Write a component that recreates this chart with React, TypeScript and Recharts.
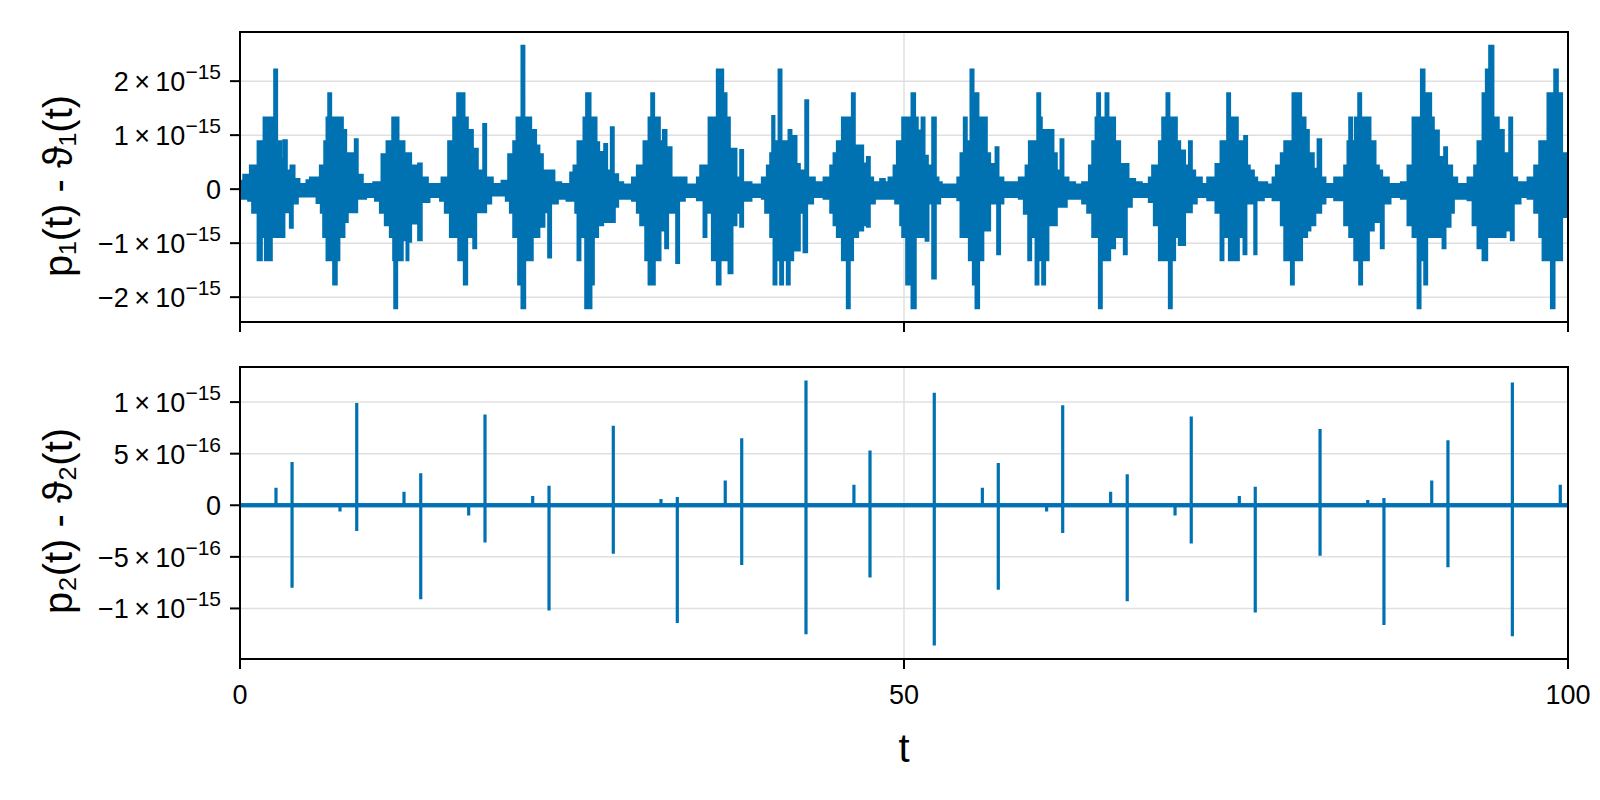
import React from 'react';
import { ComposedChart, Area, Line, XAxis, YAxis, CartesianGrid } from 'recharts';

const BLUE = '#0072B2';
const GRID = '#e0e0e0';
const FONT = '"Liberation Sans", Arimo, Arial, Helvetica, sans-serif';

// ---- axes / labels ----
const X_TICKS = [0, 50, 100];
const X_LABEL = 't';
const TOP_Y_LABEL = 'p₁(t) - ϑ₁(t)';
const BOTTOM_Y_LABEL = 'p₂(t) - ϑ₂(t)';

// values are expressed in units of 1e-15
const TOP_DOMAIN = [-2.46, 2.91];
const TOP_TICKS = [-2, -1, 0, 1, 2];
const TOP_TICK_MANTISSA = ['−2', '−1', '0', '1', '2'];
const TOP_TICK_EXP = ['−15', '−15', '', '−15', '−15'];

const BOTTOM_DOMAIN = [-1.49, 1.34];
const BOTTOM_TICKS = [-1, -0.5, 0, 0.5, 1];
const BOTTOM_TICK_MANTISSA = ['−1', '−5', '0', '5', '1'];
const BOTTOM_TICK_EXP = ['−15', '−16', '', '−16', '−15'];

// ---- top panel: upper envelope of p1 - θ1 (t, value ×1e-15), step breakpoints ----
const TOP_UPPER: [number, number][] = [
  [0, 0.16], [0.23, 0.27], [0.73, 0.44], [1.31, 0.89], [1.76, 1.33], [2.56, 2.22], [2.81, 0.89], [3.11, 0.56],
  [3.24, 0.91], [3.54, 0.35], [3.79, 0.44], [4.12, 0.19], [4.49, 0.10], [4.99, 0.17], [5.25, 0.22], [6.0, 0.44],
  [6.33, 0.89], [6.5, 1.33], [6.63, 1.78], [6.88, 1.33], [7.76, 1.10], [8.01, 0.67], [8.51, 0.28], [8.63, 0.93],
  [8.88, 0.27], [9.26, 0.10], [10.02, 0.13], [10.64, 0.65], [11.02, 0.89], [11.45, 1.33], [11.95, 0.89], [12.4, 0.67],
  [12.9, 0.44], [13.4, 0.48], [13.7, 0.22], [14.16, 0.10], [15.16, 0.22], [15.66, 0.89], [16.04, 1.33], [16.34, 1.78],
  [16.92, 1.33], [17.17, 1.10], [17.55, 0.75], [17.92, 0.35], [18.3, 1.21], [18.55, 0.22], [19.05, 0.10], [19.68, 0.16],
  [20.18, 0.65], [20.56, 0.89], [20.81, 1.33], [21.18, 2.66], [21.43, 1.33], [21.94, 1.10], [22.31, 0.81], [22.56, 0.65],
  [22.82, 0.35], [23.69, 0.13], [24.2, 0.10], [24.85, 0.31], [25.1, 0.44], [25.4, 0.89], [25.85, 1.33], [26.05, 1.78],
  [26.41, 1.33], [26.86, 0.87], [27.06, 0.69], [27.41, 0.84], [27.66, 0.35], [27.91, 1.15], [28.16, 0.28], [28.49, 0.13],
  [28.87, 0.09], [29.5, 0.22], [29.87, 0.44], [30.37, 0.89], [30.75, 1.33], [30.95, 1.78], [31.2, 1.33], [31.63, 0.89],
  [31.83, 1.10], [32.13, 0.78], [32.51, 0.22], [33.64, 0.09], [34.39, 0.22], [34.64, 0.44], [35.27, 1.33], [35.89, 2.22],
  [36.4, 1.78], [36.65, 1.33], [36.9, 0.75], [37.4, 0.22], [37.65, 0.73], [37.9, 0.13], [38.53, 0.09], [39.28, 0.22],
  [39.66, 0.44], [39.91, 0.67], [40.06, 1.36], [40.26, 0.89], [40.54, 2.22], [40.79, 0.89], [41.29, 1.10], [41.54, 0.99],
  [41.92, 0.47], [42.17, 0.35], [42.55, 1.65], [42.8, 0.22], [43.3, 0.13], [43.93, 0.22], [44.43, 0.44], [44.68, 0.67],
  [44.93, 0.89], [45.31, 1.33], [46.06, 1.78], [46.31, 0.81], [46.94, 0.48], [47.19, 0.60], [47.44, 0.22], [47.69, 0.13],
  [48.19, 0.19], [48.57, 0.13], [48.82, 0.22], [49.2, 0.44], [49.45, 0.89], [49.85, 1.33], [50.55, 1.78], [50.85, 1.33],
  [51.05, 1.09], [51.31, 1.33], [51.56, 0.62], [51.81, 0.44], [52.11, 1.33], [52.41, 0.22], [52.61, 0.13], [52.86, 0.09],
  [54.0, 0.22], [54.24, 0.67], [54.49, 1.33], [54.74, 0.89], [54.99, 2.22], [55.25, 1.78], [55.62, 1.33], [56.25, 0.67],
  [56.5, 0.47], [56.88, 0.78], [57.13, 0.22], [57.5, 0.13], [58.63, 0.22], [59.14, 0.44], [59.39, 0.89], [60.02, 1.78],
  [60.27, 1.33], [60.39, 1.10], [61.27, 0.67], [61.52, 0.35], [61.77, 0.93], [62.02, 0.22], [62.4, 0.13], [62.9, 0.09],
  [63.4, 0.13], [63.91, 0.44], [64.16, 0.89], [64.41, 1.33], [64.53, 1.78], [64.78, 1.33], [65.16, 1.78], [65.41, 1.33],
  [65.91, 0.89], [66.29, 0.47], [66.92, 0.19], [67.42, 0.13], [67.92, 0.10], [68.42, 0.22], [68.67, 0.44], [69.18, 0.89],
  [69.43, 1.33], [69.75, 1.78], [70.0, 1.33], [70.56, 0.89], [70.81, 0.72], [71.18, 0.44], [71.44, 0.89], [71.69, 0.35],
  [71.94, 0.22], [72.44, 0.10], [72.82, 0.22], [73.44, 0.47], [73.82, 0.89], [74.32, 1.78], [74.57, 1.33], [75.15, 0.89],
  [75.6, 0.99], [75.85, 0.44], [76.05, 0.35], [76.36, 0.22], [76.61, 0.13], [77.36, 0.09], [77.74, 0.22], [77.99, 0.44],
  [78.36, 0.67], [78.62, 0.89], [79.24, 1.78], [79.92, 1.33], [80.25, 1.10], [80.5, 0.67], [80.87, 0.38], [81.13, 0.93],
  [81.43, 0.22], [81.75, 0.10], [82.38, 0.22], [83.13, 0.44], [83.38, 0.89], [83.51, 1.33], [83.76, 0.89], [83.94, 1.33],
  [84.19, 1.78], [84.44, 1.33], [85.14, 0.89], [85.52, 0.44], [85.77, 0.35], [86.02, 0.22], [86.52, 0.10], [87.4, 0.13],
  [87.9, 0.44], [88.28, 1.33], [88.91, 2.22], [89.21, 1.78], [89.71, 1.33], [89.91, 1.09], [90.29, 0.60], [90.66, 0.78],
  [90.91, 0.44], [91.29, 0.22], [91.67, 0.10], [92.42, 0.22], [92.92, 0.44], [93.17, 0.89], [93.55, 1.78], [93.8, 2.22],
  [94.05, 2.66], [94.4, 1.33], [94.8, 1.10], [95.18, 0.67], [95.56, 1.33], [95.81, 0.22], [96.19, 0.13], [96.94, 0.22],
  [97.44, 0.44], [97.82, 0.89], [98.44, 1.78], [98.95, 2.22], [99.25, 1.78], [99.57, 0.67], [100, 0.67],
];

// ---- top panel: lower envelope of p1 - θ1 (t, value ×1e-15), step breakpoints ----
const TOP_LOWER: [number, number][] = [
  [0, -0.18], [0.6, -0.22], [0.9, -0.44], [1.31, -1.32], [1.66, -0.89], [1.86, -1.32], [2.41, -0.89], [3.36, -0.43],
  [3.74, -0.72], [3.99, -0.27], [4.37, -0.14], [5.75, -0.26], [6.07, -0.44], [6.25, -0.89], [6.5, -1.32], [7.0, -1.77],
  [7.3, -1.32], [7.5, -0.89], [7.88, -0.61], [8.13, -0.43], [8.84, -0.18], [9.51, -0.15], [10.15, -0.22], [10.52, -0.44],
  [10.89, -0.67], [11.27, -0.89], [11.52, -1.32], [11.6, -2.21], [11.85, -1.32], [12.27, -0.95], [12.52, -1.32], [12.7, -0.98],
  [12.9, -0.64], [13.4, -0.95], [13.7, -0.24], [14.28, -0.15], [15.05, -0.22], [15.41, -0.44], [15.79, -0.89], [16.42, -1.32],
  [16.72, -0.89], [16.84, -1.77], [17.12, -0.89], [17.55, -1.10], [17.8, -0.43], [18.55, -0.27], [18.93, -0.12], [20.0, -0.22],
  [20.31, -0.44], [20.56, -0.89], [20.93, -1.77], [21.18, -2.21], [21.49, -1.32], [22.06, -0.89], [22.56, -0.70], [22.94, -0.43],
  [23.19, -1.27], [23.44, -0.27], [23.95, -0.18], [24.57, -0.22], [25.23, -0.44], [25.4, -1.32], [25.65, -0.89], [25.98, -2.21],
  [26.48, -1.77], [26.66, -0.89], [26.98, -0.67], [27.36, -0.61], [28.24, -0.33], [28.49, -0.18], [29.5, -0.22], [29.87, -0.44],
  [30.12, -0.67], [30.5, -1.32], [30.75, -1.77], [31.25, -1.32], [31.68, -0.77], [32.0, -1.10], [32.25, -0.44], [32.83, -1.37],
  [33.08, -0.22], [33.51, -0.15], [34.39, -0.21], [34.89, -0.89], [35.14, -0.44], [35.52, -1.32], [35.89, -1.77], [36.2, -1.32],
  [36.77, -1.56], [37.1, -0.67], [37.4, -0.44], [37.65, -0.70], [37.9, -0.22], [38.53, -0.15], [39.28, -0.18], [39.53, -0.44],
  [39.91, -0.89], [40.16, -1.77], [40.41, -1.32], [40.66, -1.77], [40.91, -1.32], [41.16, -1.77], [41.41, -1.32], [41.67, -1.14],
  [42.17, -0.44], [42.42, -1.17], [42.72, -0.27], [43.17, -0.15], [43.93, -0.18], [44.43, -0.44], [44.68, -0.67], [44.93, -0.89],
  [45.31, -1.32], [45.68, -2.21], [45.93, -1.32], [46.18, -0.89], [46.56, -0.77], [46.94, -0.67], [47.19, -0.70], [47.44, -0.27],
  [47.82, -0.18], [49.32, -0.27], [49.7, -0.67], [49.85, -0.89], [50.15, -1.77], [50.55, -2.21], [50.9, -0.89], [51.61, -0.96],
  [51.86, -0.27], [52.11, -1.66], [52.41, -0.27], [52.74, -0.15], [54.0, -0.21], [54.24, -0.89], [54.87, -1.32], [55.17, -1.77],
  [55.37, -2.21], [55.67, -1.32], [55.99, -0.77], [56.5, -0.27], [57.0, -1.21], [57.25, -0.27], [57.5, -0.15], [58.63, -0.18],
  [59.01, -0.46], [59.34, -1.32], [59.59, -0.89], [59.89, -1.77], [60.14, -1.32], [60.39, -1.77], [60.64, -1.32], [60.89, -0.67],
  [61.52, -0.33], [62.27, -0.18], [63.4, -0.27], [63.78, -0.44], [64.16, -0.89], [64.66, -2.21], [64.91, -1.32], [65.54, -1.10],
  [65.91, -0.89], [66.54, -1.21], [66.79, -0.33], [67.17, -0.15], [68.42, -0.24], [68.8, -0.67], [69.18, -1.32], [69.93, -2.21],
  [70.18, -1.32], [70.43, -0.89], [70.68, -1.04], [71.18, -0.43], [71.69, -0.27], [72.06, -0.15], [72.82, -0.21], [73.44, -0.44],
  [73.82, -1.32], [74.07, -0.89], [74.45, -1.32], [75.23, -0.89], [75.55, -1.21], [75.8, -0.27], [76.36, -1.21], [76.56, -0.21],
  [77.11, -0.15], [77.74, -0.21], [78.36, -0.67], [78.62, -1.32], [79.12, -1.77], [79.37, -1.32], [79.99, -0.89], [80.37, -0.77],
  [80.62, -0.67], [80.99, -0.44], [81.43, -0.27], [81.75, -0.15], [82.38, -0.21], [83.13, -0.67], [83.51, -0.89], [83.89, -1.32],
  [84.26, -1.77], [84.51, -1.32], [85.02, -0.77], [85.39, -0.61], [85.89, -1.10], [86.14, -0.27], [86.65, -0.15], [87.4, -0.18],
  [87.9, -0.67], [88.28, -0.89], [88.66, -2.21], [88.91, -1.32], [89.16, -1.77], [89.41, -0.89], [90.54, -1.10], [90.79, -0.70],
  [91.17, -0.44], [91.42, -0.18], [92.42, -0.21], [92.8, -0.67], [93.17, -1.10], [93.55, -1.32], [93.93, -0.89], [95.31, -0.77],
  [95.68, -0.95], [95.93, -0.27], [96.44, -0.15], [96.94, -0.18], [97.44, -0.44], [97.82, -0.89], [98.07, -1.32], [98.7, -2.21],
  [99.0, -1.32], [99.57, -0.52], [100, -0.52],
];

// ---- bottom panel: p2 - θ2 (×1e-15) ----
const BOTTOM_NOISE_T = [0, 100];
const BOTTOM_NOISE_HI = [0.016, 0.016];
const BOTTOM_NOISE_LO = [-0.016, -0.016];

const SPIKE_T = [2.71, 3.92, 7.53, 8.79, 12.35, 13.61, 17.22, 18.45, 22.04, 23.27, 28.11, 31.7, 32.93, 36.54, 37.78, 42.62, 46.23, 47.44, 52.28, 55.9, 57.1, 60.74, 61.95, 65.56, 66.81, 70.41, 71.63, 75.25, 76.45, 81.33, 84.92, 86.14, 89.74, 90.96, 95.81, 99.42];
const SPIKE_HI = [0.17, 0.42, 0, 0.99, 0.13, 0.31, 0, 0.88, 0.09, 0.19, 0.77, 0.06, 0.08, 0.24, 0.65, 1.21, 0.2, 0.53, 1.09, 0.17, 0.41, 0, 0.97, 0.13, 0.3, 0, 0.86, 0.09, 0.18, 0.74, 0.05, 0.07, 0.24, 0.63, 1.19, 0.2];
const SPIKE_LO = [0, -0.8, -0.06, -0.25, 0, -0.91, -0.1, -0.36, 0, -1.02, -0.47, 0, -1.14, 0, -0.58, -1.25, 0, -0.7, -1.36, 0, -0.82, -0.06, -0.27, 0, -0.93, -0.1, -0.37, 0, -1.04, -0.49, 0, -1.16, 0, -0.6, -1.27, 0];

const TICK_FONT = 27;
const SUP_FONT = 21;

function makeYTick(ticks: number[], mant: string[], exps: string[]) {
  return (props: any) => {
    const { x, y, payload } = props;
    const i = ticks.findIndex((v) => Math.abs(v - payload.value) < 1e-9);
    if (i < 0) return <g />;
    return (
      <text x={x - 9} y={y + 10} textAnchor="end" fontFamily={FONT} fontSize={TICK_FONT} fill="#000">
        {exps[i] ? (
          <>
            <tspan>{mant[i] + '\u2009×\u200910'}</tspan>
            <tspan dy={-12} fontSize={SUP_FONT}>{exps[i]}</tspan>
          </>
        ) : (
          <tspan>{mant[i]}</tspan>
        )}
      </text>
    );
  };
}

const TopYTick = makeYTick(TOP_TICKS, TOP_TICK_MANTISSA, TOP_TICK_EXP);
const BottomYTick = makeYTick(BOTTOM_TICKS, BOTTOM_TICK_MANTISSA, BOTTOM_TICK_EXP);

const XTick = (props: any) => {
  const { x, y, payload } = props;
  return (
    <text x={x} y={y + 35} textAnchor="middle" fontFamily={FONT} fontSize={TICK_FONT} fill="#000">
      {String(payload.value)}
    </text>
  );
};

const EmptyTick = () => <g />;

const tickLineStyle = { stroke: '#000', strokeWidth: 2 };

export default function App() {
  const upper = TOP_UPPER.map(([t, v]) => ({ t, v }));
  const lower = TOP_LOWER.map(([t, v]) => ({ t, v }));
  const noise = BOTTOM_NOISE_T.map((t, i) => ({ t, band: [BOTTOM_NOISE_LO[i], BOTTOM_NOISE_HI[i]] }));
  const spikes: { t: number; y: number }[] = [];
  SPIKE_T.forEach((t, i) => {
    spikes.push({ t, y: 0 }, { t, y: SPIKE_HI[i] }, { t, y: SPIKE_LO[i] }, { t, y: 0 });
  });

  return (
    <div style={{ position: 'absolute', left: 0, top: 0, width: 1600, height: 800, background: '#fff', overflow: 'hidden' }}>
      <div style={{ position: 'absolute', left: 0, top: 0 }}>
        <ComposedChart width={1600} height={340} margin={{ top: 32, right: 32, bottom: 8, left: 0 }}>
          <CartesianGrid stroke={GRID} strokeWidth={1.5} />
          <XAxis
            dataKey="t"
            type="number"
            domain={[0, 100]}
            ticks={X_TICKS}
            interval={0}
            allowDataOverflow
            height={10}
            tick={<EmptyTick />}
            tickSize={10}
            tickMargin={0}
            tickLine={tickLineStyle}
            axisLine={false}
          />
          <YAxis
            type="number"
            domain={TOP_DOMAIN}
            ticks={TOP_TICKS}
            interval={0}
            allowDataOverflow
            width={240}
            tickSize={10}
            tickMargin={0}
            tickLine={tickLineStyle}
            axisLine={false}
            tick={<TopYTick />}
          />
          <Area data={upper} dataKey="v" type="stepAfter" baseValue={-0.08} fill={BLUE} fillOpacity={1} stroke={BLUE} strokeWidth={1.6} dot={false} activeDot={false} isAnimationActive={false} />
          <Area data={lower} dataKey="v" type="stepAfter" baseValue={0.08} fill={BLUE} fillOpacity={1} stroke={BLUE} strokeWidth={1.6} dot={false} activeDot={false} isAnimationActive={false} />
        </ComposedChart>
      </div>
      <div style={{ position: 'absolute', left: 0, top: 340 }}>
        <ComposedChart width={1600} height={460} margin={{ top: 27, right: 32, bottom: 0, left: 0 }}>
          <CartesianGrid stroke={GRID} strokeWidth={1.5} />
          <XAxis
            dataKey="t"
            type="number"
            domain={[0, 100]}
            ticks={X_TICKS}
            interval={0}
            allowDataOverflow
            height={141}
            tickSize={10}
            tickMargin={0}
            tickLine={tickLineStyle}
            axisLine={false}
            tick={<XTick />}
          />
          <YAxis
            type="number"
            domain={BOTTOM_DOMAIN}
            ticks={BOTTOM_TICKS}
            interval={0}
            allowDataOverflow
            width={240}
            tickSize={10}
            tickMargin={0}
            tickLine={tickLineStyle}
            axisLine={false}
            tick={<BottomYTick />}
          />
          <Area data={noise} dataKey="band" type="linear" fill={BLUE} fillOpacity={1} stroke={BLUE} strokeWidth={1} dot={false} activeDot={false} isAnimationActive={false} />
          <Line data={spikes} dataKey="y" type="linear" stroke={BLUE} strokeWidth={3.2} strokeLinecap="butt" dot={false} activeDot={false} isAnimationActive={false} />
        </ComposedChart>
      </div>
      <svg width={1600} height={800} style={{ position: 'absolute', left: 0, top: 0, pointerEvents: 'none' }}>
        <rect x={240} y={32} width={1328} height={290} fill="none" stroke="#000" strokeWidth={2} />
        <rect x={240} y={367} width={1328} height={292} fill="none" stroke="#000" strokeWidth={2} />
        <text transform="translate(72,186) rotate(-90)" textAnchor="middle" fontFamily={FONT} fontSize={40} fill="#000">
          {TOP_Y_LABEL}
        </text>
        <text transform="translate(72,521) rotate(-90)" textAnchor="middle" fontFamily={FONT} fontSize={40} fill="#000">
          {BOTTOM_Y_LABEL}
        </text>
        <text x={904} y={762} textAnchor="middle" fontFamily={FONT} fontSize={40} fill="#000">
          {X_LABEL}
        </text>
      </svg>
    </div>
  );
}
